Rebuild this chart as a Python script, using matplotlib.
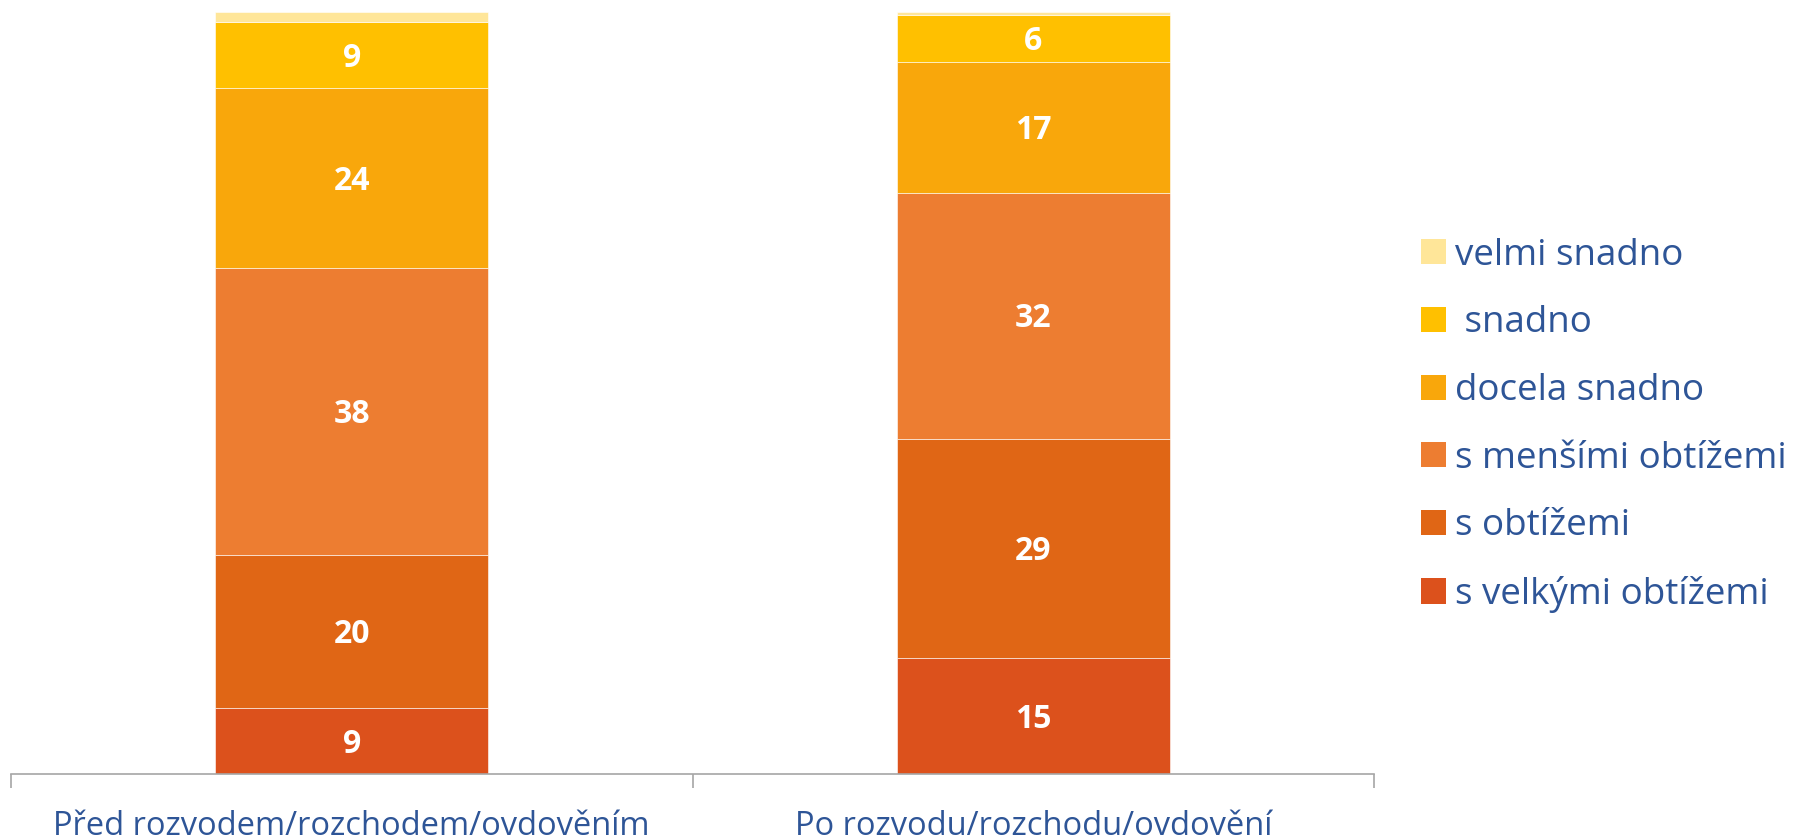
import matplotlib
matplotlib.use('Agg')
import matplotlib.pyplot as plt
from matplotlib.patches import Patch

plt.rcParams['font.family'] = ['Open Sans', 'DejaVu Sans']

categories = ['Před rozvodem/rozchodem/ovdověním', 'Po rozvodu/rozchodu/ovdovění']
series_names = ['s velkými obtížemi', 's obtížemi', 's menšími obtížemi',
                'docela snadno', ' snadno', 'velmi snadno']
values = {
    's velkými obtížemi': [8.6, 15.2],
    's obtížemi': [20.1, 28.8],
    's menšími obtížemi': [37.7, 32.3],
    'docela snadno': [23.6, 17.1],
    ' snadno': [8.7, 6.2],
    'velmi snadno': [1.3, 0.4],
}
labels = {
    's velkými obtížemi': ['9', '15'],
    's obtížemi': ['20', '29'],
    's menšími obtížemi': ['38', '32'],
    'docela snadno': ['24', '17'],
    ' snadno': ['9', '6'],
    'velmi snadno': ['', ''],
}
colors = ['#DC511C', '#E06615', '#ED7D31', '#F9A70B', '#FFC000', '#FFE699']

text_blue = '#2E5597'

fig = plt.figure(figsize=(17.95, 8.39), dpi=100)
ax = fig.add_axes([0.0061, 0.0775, 0.7594, 0.908])

x = range(len(categories))
bottom = [0, 0]
handles = []
for name, col in zip(series_names, colors):
    vals = values[name]
    bars = ax.bar(x, vals, 0.4, bottom=bottom, color=col, edgecolor='white', linewidth=0.4)
    for b, v, bot, lab in zip(bars, vals, bottom, labels[name]):
        if lab:
            ax.text(b.get_x() + b.get_width() / 2, bot + v / 2 - 0.4, lab, ha='center', va='center',
                    color='white', fontsize=23, fontweight='bold')
    bottom = [bt + v for bt, v in zip(bottom, vals)]
    handles.append(Patch(facecolor=col, edgecolor='none', label=name))

ax.set_xlim(-0.5, 1.5)
ax.set_ylim(0, 100)
for s in ['top', 'right', 'left']:
    ax.spines[s].set_visible(False)
ax.spines['bottom'].set_color('#A6A6A6')
ax.spines['bottom'].set_linewidth(1.2)
ax.set_yticks([])
ax.set_xticks(list(x))
ax.set_xticklabels(categories, fontsize=23.5, color=text_blue)
ax.tick_params(axis='x', which='major', length=0, pad=26)
ax.set_xticks([-0.5, 0.5, 1.5], minor=True)
ax.tick_params(axis='x', which='minor', length=10, color='#A6A6A6', width=1.2)

fig.legend(handles=handles[::-1], loc='center left', bbox_to_anchor=(0.7834, 0.493),
           frameon=False, fontsize=26.5, labelcolor=text_blue, handlelength=0.68,
           handleheight=0.68, handletextpad=0.25, labelspacing=0.86, borderaxespad=0)

plt.savefig('out.png', dpi=100)
